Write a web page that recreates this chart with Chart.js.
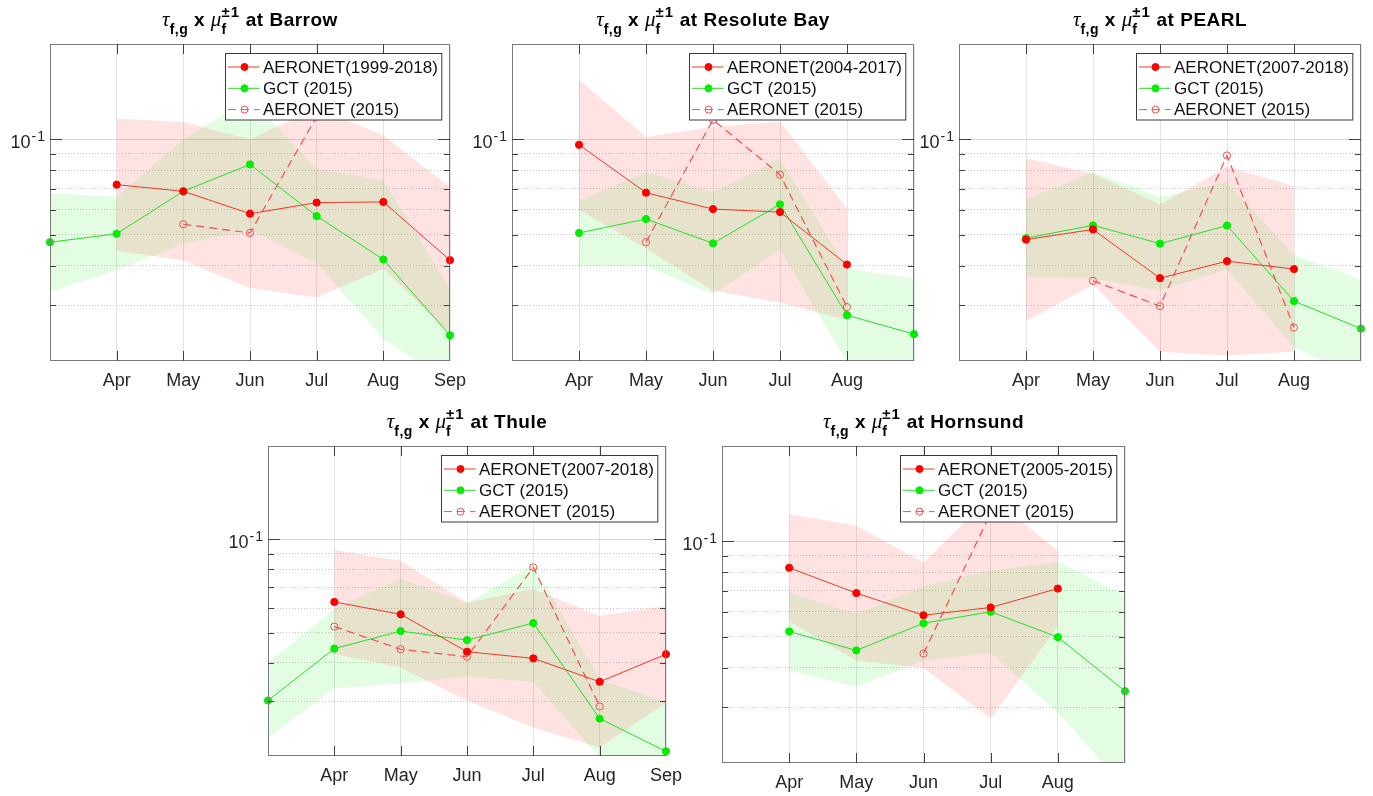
<!DOCTYPE html>
<html>
<head>
<meta charset="utf-8">
<script src="https://cdn.jsdelivr.net/npm/chart.js@4.4.1/dist/chart.umd.min.js"></script>
<style>
  body { margin: 0; background: #fff; width: 1373px; height: 796px; position: relative; overflow: hidden; }
  canvas { position: absolute; }
</style>
</head>
<body>
<script>
// months on the x axis (Mar..Sep), and which ones get a label
const months = [3, 4, 5, 6, 7, 8, 9];
const ticksToSep = ['', 'Apr', 'May', 'Jun', 'Jul', 'Aug', 'Sep'];
const ticksToAug = ['', 'Apr', 'May', 'Jun', 'Jul', 'Aug', ''];
const yTicks = [0.03, 0.04, 0.05, 0.06, 0.07, 0.08, 0.09, 0.1];

// Barrow
const barrowAero   = [null, 0.0720, 0.0686, 0.0583, 0.0632, 0.0635, 0.0416];
const barrowAeroHi = [null, 0.1162, 0.1134, 0.1000, 0.1258, 0.1029, 0.0708];
const barrowAeroLo = [null, 0.0446, 0.0415, 0.0340, 0.0317, 0.0391, 0.0244];
const barrowGct    = [0.0474, 0.0504, 0.0686, 0.0834, 0.0573, 0.0418, 0.0241];
const barrowGctHi  = [0.0678, 0.0658, 0.1002, 0.1343, 0.0808, 0.0743, 0.0338];
const barrowGctLo  = [0.0331, 0.0387, 0.0469, 0.0518, 0.0407, 0.0235, 0.0172];
const barrow2015   = [null, null, 0.0540, 0.0507, 0.1180, null, null];

// Resolute Bay
const resoluteAero   = [null, 0.0962, 0.0679, 0.0603, 0.0590, 0.0403, null];
const resoluteAeroHi = [null, 0.1542, 0.1017, 0.1094, 0.1139, 0.0605, null];
const resoluteAeroLo = [null, 0.0600, 0.0453, 0.0333, 0.0306, 0.0269, null];
const resoluteGct    = [null, 0.0507, 0.0561, 0.0470, 0.0624, 0.0279, 0.0243];
const resoluteGctHi  = [null, 0.0642, 0.0789, 0.0682, 0.0869, 0.0391, 0.0364];
const resoluteGctLo  = [null, 0.0399, 0.0399, 0.0324, 0.0448, 0.0199, 0.0162];
const resolute2015   = [null, null, 0.0474, 0.1153, 0.0774, 0.0296, null];

// PEARL
const pearlAero   = [null, 0.0483, 0.0520, 0.0365, 0.0413, 0.0390, null];
const pearlAeroHi = [null, 0.0873, 0.0780, 0.0623, 0.0818, 0.0713, null];
const pearlAeroLo = [null, 0.0267, 0.0348, 0.0214, 0.0208, 0.0214, null];
const pearlGct    = [null, 0.0488, 0.0536, 0.0469, 0.0535, 0.0309, 0.0253];
const pearlGctHi  = [null, 0.0645, 0.0789, 0.0658, 0.0734, 0.0431, 0.0361];
const pearlGctLo  = [null, 0.0368, 0.0364, 0.0334, 0.0389, 0.0221, 0.0177];
const pearl2015   = [null, null, 0.0358, 0.0298, 0.0890, 0.0255, null];

// Thule
const thuleAero   = [null, 0.0628, 0.0573, 0.0434, 0.0413, 0.0347, 0.0426];
const thuleAeroHi = [null, 0.0924, 0.0851, 0.0625, 0.0692, 0.0566, 0.0610];
const thuleAeroLo = [null, 0.0427, 0.0386, 0.0302, 0.0247, 0.0213, 0.0297];
const thuleGct    = [0.0302, 0.0444, 0.0506, 0.0473, 0.0537, 0.0264, 0.0207];
const thuleGctHi  = [0.0400, 0.0597, 0.0746, 0.0622, 0.0831, 0.0353, 0.0297];
const thuleGctLo  = [0.0229, 0.0330, 0.0343, 0.0361, 0.0347, 0.0197, 0.0144];
const thule2015   = [null, 0.0523, 0.0442, 0.0418, 0.0812, 0.0289, null];

// Hornsund
const hornsundAero   = [null, 0.0826, 0.0687, 0.0585, 0.0619, 0.0710, null];
const hornsundAeroHi = [null, 0.1220, 0.1121, 0.0858, 0.1387, 0.0934, null];
const hornsundAeroLo = [null, 0.0559, 0.0421, 0.0399, 0.0276, 0.0540, null];
const hornsundGct    = [null, 0.0520, 0.0453, 0.0552, 0.0600, 0.0499, 0.0337];
const hornsundGctHi  = [null, 0.0690, 0.0590, 0.0724, 0.0808, 0.0865, 0.0674];
const hornsundGctLo  = [null, 0.0391, 0.0348, 0.0421, 0.0445, 0.0288, 0.0168];
const hornsund2015   = [null, null, null, 0.0443, 0.1226, null, null];

const stations = [
  { name: 'Barrow', years: '1999-2018', aero: barrowAero, aeroHi: barrowAeroHi, aeroLo: barrowAeroLo,
    gct: barrowGct, gctHi: barrowGctHi, gctLo: barrowGctLo, y2015: barrow2015, ticks: ticksToSep,
    box: { left: 50, top: 44, w: 400, h: 317 } },
  { name: 'Resolute Bay', years: '2004-2017', aero: resoluteAero, aeroHi: resoluteAeroHi, aeroLo: resoluteAeroLo,
    gct: resoluteGct, gctHi: resoluteGctHi, gctLo: resoluteGctLo, y2015: resolute2015, ticks: ticksToAug,
    box: { left: 512, top: 44, w: 402, h: 317 } },
  { name: 'PEARL', years: '2007-2018', aero: pearlAero, aeroHi: pearlAeroHi, aeroLo: pearlAeroLo,
    gct: pearlGct, gctHi: pearlGctHi, gctLo: pearlGctLo, y2015: pearl2015, ticks: ticksToAug,
    box: { left: 959, top: 44, w: 402, h: 317 } },
  { name: 'Thule', years: '2007-2018', aero: thuleAero, aeroHi: thuleAeroHi, aeroLo: thuleAeroLo,
    gct: thuleGct, gctHi: thuleGctHi, gctLo: thuleGctLo, y2015: thule2015, ticks: ticksToSep,
    box: { left: 268, top: 446, w: 398, h: 310 } },
  { name: 'Hornsund', years: '2005-2015', aero: hornsundAero, aeroHi: hornsundAeroHi, aeroLo: hornsundAeroLo,
    gct: hornsundGct, gctHi: hornsundGctHi, gctLo: hornsundGctLo, y2015: hornsund2015, ticks: ticksToAug,
    box: { left: 722, top: 446, w: 403, h: 317 } }
];

const sans = '"Liberation Sans", Arial, Helvetica, sans-serif';
const serif = '"Liberation Serif", "Times New Roman", serif';
const textColor = '#262626';

function toXY(arr) {
  return months.map((m, i) => ({ x: m, y: arr[i] }));
}

// width of a string drawn char by char with extra spacing
function spacedWidth(ctx, t, sp) {
  let w = 0;
  for (const ch of t) w += ctx.measureText(ch).width + sp;
  return w;
}
function spacedText(ctx, t, x, y, sp) {
  for (const ch of t) { ctx.fillText(ch, x, y); x += ctx.measureText(ch).width + sp; }
}

// tau_{f,g} x mu_f^{±1} at Station
function drawTitle(ctx, cx, baseY, station) {
  const parts = [
    { t: 'τ', f: 'italic 21px ' + serif, dy: 0, sp: 0 },
    { t: 'f,g', f: 'bold 14px ' + sans, dy: 8.5, sp: 0.5 },
    { t: ' x ', f: 'bold 19px ' + sans, dy: 0, sp: 0.5 },
    { t: 'μ', f: 'italic 21px ' + serif, dy: 0, sp: 0 },
    { stack: [{ t: '±1', f: 'bold 15px ' + sans, dy: -9, sp: 1 }, { t: 'f', f: 'bold 14px ' + sans, dy: 8.5, sp: 0 }] },
    { t: ' at ' + station, f: 'bold 19px ' + sans, dy: 0, sp: 0.5 }
  ];
  let total = 0;
  parts.forEach(p => {
    if (p.stack) {
      p.w = Math.max(...p.stack.map(s => { ctx.font = s.f; return spacedWidth(ctx, s.t, s.sp); }));
    } else {
      ctx.font = p.f; p.w = spacedWidth(ctx, p.t, p.sp);
    }
    total += p.w;
  });
  let x = cx - total / 2;
  ctx.fillStyle = '#000';
  ctx.textBaseline = 'alphabetic';
  ctx.textAlign = 'left';
  parts.forEach(p => {
    const items = p.stack || [p];
    items.forEach(s => { ctx.font = s.f; spacedText(ctx, s.t, x, baseY + s.dy, s.sp); });
    x += p.w;
  });
}

const decor = {
  id: 'decor',
  afterDatasetsDraw(chart) {
    const { ctx, chartArea: a, scales: { x, y } } = chart;
    ctx.save();
    ctx.strokeStyle = '#7a7a7a';
    ctx.lineWidth = 1;
    ctx.strokeRect(Math.round(a.left) + 0.5, Math.round(a.top) + 0.5,
      Math.round(a.right - a.left) - 1, Math.round(a.bottom - a.top) - 1);
    ctx.strokeStyle = '#404040';
    ctx.beginPath();
    x.ticks.forEach(t => {
      if (t.value <= x.min || t.value >= x.max) return;
      const px = Math.round(x.getPixelForValue(t.value)) + 0.5;
      ctx.moveTo(px, a.top); ctx.lineTo(px, a.top + 10);
      ctx.moveTo(px, a.bottom); ctx.lineTo(px, a.bottom - 10);
    });
    y.ticks.forEach(t => {
      const py = Math.round(y.getPixelForValue(t.value)) + 0.5;
      const len = t.value === 0.1 ? 12 : 6;
      ctx.moveTo(a.left, py); ctx.lineTo(a.left + len, py);
      ctx.moveTo(a.right, py); ctx.lineTo(a.right - len, py);
    });
    ctx.stroke();
    ctx.restore();
  },
  afterDraw(chart, args, opts) {
    const { ctx, chartArea: a, scales: { y } } = chart;
    ctx.save();
    drawTitle(ctx, (a.left + a.right) / 2, a.top - 18.3, opts.station);

    // y tick label 10^-1
    const py = y.getPixelForValue(0.1);
    ctx.fillStyle = textColor;
    ctx.textBaseline = 'alphabetic';
    ctx.textAlign = 'left';
    ctx.font = '18px ' + sans;
    const w1 = ctx.measureText('10').width + 1;
    ctx.font = '14px ' + sans;
    const w2 = ctx.measureText('-1').width + 1;
    const x0 = a.left - 5 - w1 - w2;
    ctx.font = '18px ' + sans;
    ctx.fillText('10', x0, py + 8.5);
    ctx.font = '14px ' + sans;
    spacedText(ctx, '-1', x0 + w1, py + 2, 1);

    // legend
    const entries = chart.data.datasets.filter(d => d.inLegend);
    ctx.font = '17px ' + sans;
    const tw = Math.max(...entries.map(d => ctx.measureText(d.label).width));
    const w = 37.5 + tw + 4;
    const h = 66.5;
    const lx = Math.round(a.right - 8.5 - w) + 0.5;
    const ly = Math.round(a.top + 8.5) + 0.5;
    ctx.fillStyle = '#fff';
    ctx.fillRect(lx, ly, w, h);
    ctx.strokeStyle = '#3a3a3a';
    ctx.lineWidth = 1;
    ctx.strokeRect(lx, ly, w, h);
    entries.forEach((d, i) => {
      const ry = ly + 13.5 + i * 21.3;
      ctx.strokeStyle = d.borderColor;
      ctx.lineWidth = 1;
      ctx.setLineDash(d.borderDash || []);
      ctx.beginPath();
      ctx.moveTo(lx + 2.5, ry); ctx.lineTo(lx + 34, ry);
      ctx.stroke();
      ctx.setLineDash([]);
      ctx.beginPath();
      ctx.arc(lx + 19, ry, 3.5, 0, Math.PI * 2);
      ctx.fillStyle = d.pointBackgroundColor;
      ctx.fill();
      ctx.strokeStyle = d.pointBorderColor;
      ctx.stroke();
      ctx.fillStyle = '#111';
      ctx.textBaseline = 'middle';
      ctx.fillText(d.label, lx + 37.5, ry + 1);
    });
    ctx.restore();
  }
};

const padL = 50, padT = 44, padR = 34, padB = 40, xAxisH = 34;

stations.forEach(s => {
  const canvas = document.createElement('canvas');
  canvas.width = s.box.w + padL + padR;
  canvas.height = s.box.h + padT + padB;
  canvas.style.left = (s.box.left - padL) + 'px';
  canvas.style.top = (s.box.top - padT) + 'px';
  document.body.appendChild(canvas);

  new Chart(canvas.getContext('2d'), {
    type: 'line',
    data: {
      datasets: [
        { label: 'AERONET(' + s.years + ')', data: toXY(s.aero), inLegend: true,
          borderColor: 'rgb(236,56,40)', borderWidth: 1, pointRadius: 3.6, pointBorderWidth: 1,
          pointBackgroundColor: '#ff0000', pointBorderColor: '#ff0000', fill: false, clip: false },
        { label: 'GCT (2015)', data: toXY(s.gct), inLegend: true,
          borderColor: 'rgb(40,220,40)', borderWidth: 1, pointRadius: 3.6, pointBorderWidth: 1,
          pointBackgroundColor: '#00ee00', pointBorderColor: '#00ee00', fill: false, clip: false },
        { label: 'AERONET (2015)', data: toXY(s.y2015), inLegend: true,
          borderColor: 'rgb(240,80,80)', borderWidth: 1.2, borderDash: [8, 5], pointRadius: 3.6, pointBorderWidth: 1,
          pointBackgroundColor: 'rgba(255,255,255,0)', pointBorderColor: 'rgb(240,80,80)', fill: false, clip: false },
        { label: 'aero hi', data: toXY(s.aeroHi), borderWidth: 0, pointRadius: 0,
          backgroundColor: 'rgba(255,40,40,0.13)', fill: '+1' },
        { label: 'aero lo', data: toXY(s.aeroLo), borderWidth: 0, pointRadius: 0, fill: false },
        { label: 'gct hi', data: toXY(s.gctHi), borderWidth: 0, pointRadius: 0,
          backgroundColor: 'rgba(40,240,40,0.13)', fill: '+1' },
        { label: 'gct lo', data: toXY(s.gctLo), borderWidth: 0, pointRadius: 0, fill: false }
      ]
    },
    options: {
      responsive: false,
      animation: false,
      events: [],
      layout: { padding: { left: padL, top: padT, right: padR, bottom: padB - xAxisH } },
      plugins: {
        legend: { display: false },
        tooltip: { enabled: false },
        decor: { station: s.name }
      },
      scales: {
        x: {
          type: 'linear',
          min: 3,
          max: 9,
          afterFit: sc => { sc.height = xAxisH; },
          ticks: {
            stepSize: 1,
            autoSkip: false,
            maxRotation: 0,
            padding: 9,
            color: textColor,
            font: { size: 18, family: sans },
            callback: v => s.ticks[months.indexOf(v)] || ''
          },
          grid: { color: '#e4e4e4', lineWidth: 1, drawTicks: false },
          border: { display: false }
        },
        y: {
          type: 'logarithmic',
          min: 0.02,
          max: 0.2,
          afterFit: sc => { sc.width = 0; },
          afterBuildTicks: sc => { sc.ticks = yTicks.map(v => ({ value: v })); },
          ticks: { display: false },
          grid: {
            drawTicks: false,
            lineWidth: 1,
            color: c => (c.tick && c.tick.value === 0.1) ? '#d8d8d8' : '#c4c4c4'
          },
          border: {
            display: false,
            dash: c => (c.tick && c.tick.value !== 0.1) ? [1, 2] : []
          }
        }
      }
    },
    plugins: [decor]
  });
});
</script>
</body>
</html>
